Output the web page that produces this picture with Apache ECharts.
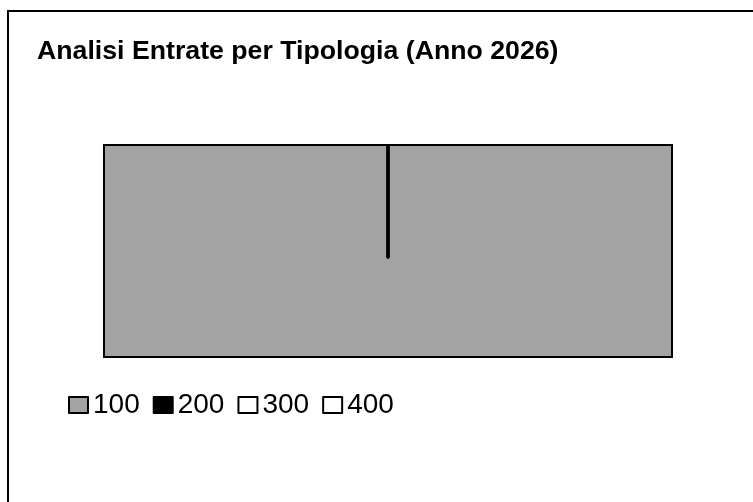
<!DOCTYPE html>
<html>
<head>
<meta charset="utf-8">
<script src="https://cdn.jsdelivr.net/npm/echarts@6/dist/echarts.min.js"></script>
<style>
html,body{margin:0;padding:0;background:#fff;overflow:hidden;}
#chart{width:753px;height:502px;}
</style>
</head>
<body>
<div id="chart"></div>
<script>
// Data: category "100" fills the whole pie; others are zero
const titleText = 'Analisi Entrate per Tipologia (Anno 2026)';
const categories = ['100', '200', '300', '400'];
const values = [100, 0, 0, 0];
const sliceColors = ['#a3a3a3', '#000000', '#ffffff', '#ffffff'];

const chart = echarts.init(document.getElementById('chart'), null, {renderer: 'canvas'});

const box = {x: 104, y: 145, w: 568, h: 212};

const pieData = categories.map((c, i) => ({
  name: c,
  value: values[i],
  itemStyle: {color: sliceColors[i], borderColor: '#000', borderWidth: 3}
}));

const option = {
  backgroundColor: '#ffffff',
  animation: false,
  title: {
    text: titleText,
    left: 37,
    top: 38,
    padding: 0,
    z: 20,
    textStyle: {
      fontFamily: 'Liberation Sans, Arial, sans-serif',
      fontWeight: 'bold',
      fontSize: 26.7,
      color: '#000'
    }
  },
  legend: {
    data: categories,
    left: 68,
    top: 391,
    padding: 0,
    orient: 'horizontal',
    icon: 'rect',
    itemWidth: 19,
    itemHeight: 16,
    itemGap: 13,
    z: 20,
    selectedMode: false,
    itemStyle: {borderColor: '#000', borderWidth: 2},
    textStyle: {
      fontFamily: 'Liberation Sans, Arial, sans-serif',
      fontSize: 28,
      color: '#000'
    }
  },
  series: [{
    type: 'pie',
    center: [388, 257],
    radius: [0, 310],
    startAngle: 90,
    clockwise: true,
    silent: true,
    label: {show: false},
    labelLine: {show: false},
    emphasis: {disabled: true},
    data: pieData
  }],
  graphic: [
    // white masks that clip the pie to the rectangular plot frame
    {type: 'rect', z: 10, silent: true, shape: {x: 0, y: 0, width: 753, height: box.y}, style: {fill: '#fff'}},
    {type: 'rect', z: 10, silent: true, shape: {x: 0, y: box.y + box.h, width: 753, height: 502 - box.y - box.h}, style: {fill: '#fff'}},
    {type: 'rect', z: 10, silent: true, shape: {x: 0, y: box.y, width: box.x, height: box.h}, style: {fill: '#fff'}},
    {type: 'rect', z: 10, silent: true, shape: {x: box.x + box.w, y: box.y, width: 753 - box.x - box.w, height: box.h}, style: {fill: '#fff'}},
    // plot frame
    {type: 'rect', z: 11, silent: true, shape: {x: box.x, y: box.y, width: box.w, height: box.h}, style: {fill: null, stroke: '#000', lineWidth: 2}},
    // outer page frame (left and top edges)
    {type: 'polyline', z: 11, silent: true, shape: {points: [[8, 510], [8, 11], [760, 11]]}, style: {fill: null, stroke: '#000', lineWidth: 2}}
  ]
};

chart.setOption(option);
</script>
</body>
</html>
